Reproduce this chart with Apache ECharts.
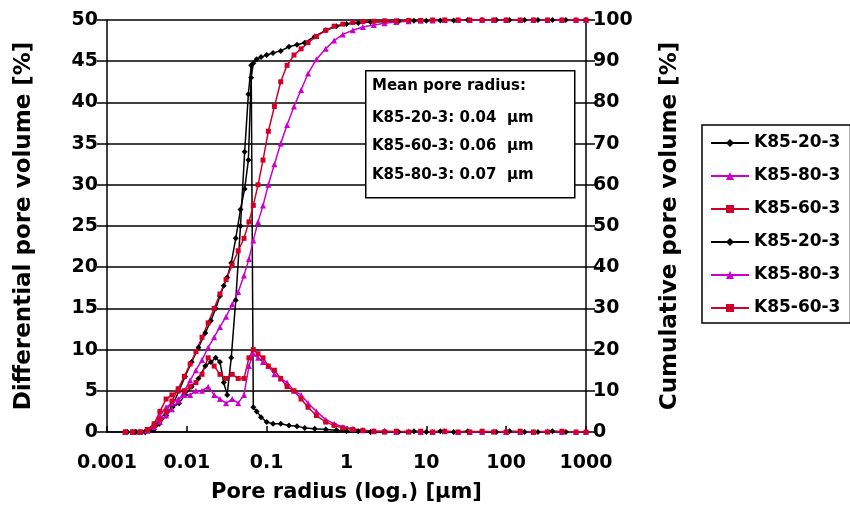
<!DOCTYPE html>
<html>
<head>
<meta charset="utf-8">
<script src="https://cdn.jsdelivr.net/npm/echarts@6/dist/echarts.min.js"></script>
<style>
  html, body { margin: 0; padding: 0; background: #fff; }
  #chart { width: 850px; height: 518px; }
</style>
</head>
<body>
<div id="chart"></div>
<script>
// pore radius [um] for K85-20-3
const radius20 = [0.0018, 0.0023, 0.003, 0.0038, 0.0045, 0.0055, 0.0066, 0.008, 0.0095, 0.0115,
  0.014, 0.017, 0.02, 0.023, 0.026, 0.029, 0.032, 0.036, 0.041, 0.047,
  0.053, 0.059, 0.064, 0.068, 0.075, 0.085, 0.1, 0.12, 0.15, 0.19,
  0.24, 0.3, 0.4, 0.55, 0.75, 1, 1.4, 2, 3, 4.5,
  7, 10, 15, 22, 33, 50, 75, 110, 170, 250, 380, 560, 1000];
const diff20 = [0, 0, 0, 0.2, 1, 2, 3, 3.5, 4.5, 5.5,
  6.5, 8, 8.5, 9, 8.5, 6, 4.5, 9, 16, 25,
  34, 41, 44.5, 3, 2.5, 1.8, 1.2, 1, 1, 0.8,
  0.7, 0.5, 0.4, 0.3, 0.2, 0.1, 0.1, 0, 0.1, 0,
  0.1, 0, 0.1, 0, 0.1, 0, 0, 0.1, 0, 0, 0.1, 0, 0];
const cum20 = [0, 0, 0, 0.5, 2, 4, 6.5, 10, 13.5, 17,
  20.5, 24, 27, 30, 33, 35.5, 37.5, 41, 47, 54,
  59, 66, 86, 89.5, 90.5, 91, 91.5, 92, 92.5, 93.5,
  94, 94.5, 96, 97.5, 98.5, 99, 99.3, 99.5, 99.6, 99.7,
  99.8, 99.8, 99.9, 99.9, 100, 100, 100, 100, 100, 100, 100, 100, 100];

// pore radius [um] for K85-60-3 and K85-80-3
const radius6080 = [0.0017, 0.0021, 0.0026, 0.0032, 0.0039, 0.0046, 0.0055, 0.0065, 0.0078, 0.0093,
  0.011, 0.013, 0.0155, 0.0185, 0.022, 0.026, 0.031, 0.037, 0.044, 0.052,
  0.06, 0.068, 0.078, 0.09, 0.105, 0.125, 0.15, 0.18, 0.22, 0.27,
  0.33, 0.42, 0.55, 0.7, 0.9, 1.2, 1.6, 2.2, 3, 4.2,
  6, 8.5, 12, 17, 25, 35, 50, 70, 100, 150, 220, 330, 500, 750, 1000];
const diff60 = [0, 0, 0, 0.3, 1, 2.5, 4, 4.5, 5, 5,
  5.5, 6, 7, 9, 8, 7, 6.5, 7, 6.5, 6.5,
  9, 10, 9.5, 9, 8, 7.5, 6.5, 5.5, 5, 4,
  3, 2, 1.2, 0.8, 0.5, 0.3, 0.2, 0.1, 0, 0.1,
  0, 0.1, 0, 0.1, 0, 0, 0.1, 0, 0, 0.1, 0, 0, 0.1, 0, 0];
const cum60 = [0, 0, 0, 0.5, 1.5, 3, 5, 7.5, 10.5, 13.5,
  16.5, 19.5, 23, 26.5, 30, 33.5, 37, 40.5, 44, 47,
  51, 55, 60, 66, 73, 79, 85, 89, 91.5, 93,
  94.5, 96, 97.5, 98.5, 99, 99.4, 99.6, 99.7, 99.8, 99.8,
  99.9, 99.9, 100, 100, 100, 100, 100, 100, 100, 100, 100, 100, 100, 100, 100];
const diff80 = [0, 0, 0, 0.2, 1, 2, 3, 3.5, 4, 4.5,
  4.5, 5, 5, 5.5, 4.5, 4, 3.5, 4, 3.5, 4.5,
  8, 9.5, 9, 8.5, 8, 7, 6.5, 6, 5, 4.5,
  3.5, 2.5, 1.5, 1, 0.6, 0.4, 0.2, 0.1, 0.1, 0,
  0.1, 0, 0, 0.1, 0, 0, 0, 0.1, 0, 0, 0, 0.1, 0, 0, 0];
const cum80 = [0, 0, 0, 0.3, 1.2, 2.5, 4, 5.5, 7.5, 10,
  12.5, 15, 17.5, 20.5, 23, 25.5, 28, 31, 34, 38,
  42, 46.5, 51, 55, 60, 65, 70, 74.5, 79, 83,
  87, 90.5, 93, 95, 96.5, 97.5, 98.3, 98.8, 99.2, 99.5,
  99.7, 99.8, 99.9, 100, 100, 100, 100, 100, 100, 100, 100, 100, 100, 100, 100];

const xTickLabels = ['0.001', '0.01', '0.1', '1', '10', '100', '1000'];
const meanLines = ['Mean pore radius:', 'K85-20-3: 0.04  µm', 'K85-60-3: 0.06  µm', 'K85-80-3: 0.07  µm'];

const FONT = 'DejaVu Sans';
const pairs = (xs, ys) => xs.map((x, i) => [x, ys[i]]);

function makeSeries(name, color, symbol, size, xs, ys, axis) {
  return {
    name: name,
    type: 'line',
    yAxisIndex: axis,
    data: pairs(xs, ys),
    symbol: symbol,
    symbolSize: size,
    color: color,
    lineStyle: { color: color, width: 1.5 },
    itemStyle: { color: color },
    animation: false
  };
}

const chart = echarts.init(document.getElementById('chart'));

const textY = [88, 120, 148, 177];
const boxTexts = meanLines.map((t, i) => ({
  type: 'text',
  left: 372,
  top: textY[i] - 9,
  z: 101,
  style: { text: t, font: 'bold 15px "DejaVu Sans"', fill: '#000' }
}));

chart.setOption({
  backgroundColor: '#fff',
  grid: { left: 107, right: 264, top: 20, bottom: 86 },
  legend: {
    orient: 'vertical',
    left: 702,
    top: 125,
    padding: [8, 10, 5, 8],
    borderColor: '#000',
    borderWidth: 1.5,
    itemWidth: 38,
    itemHeight: 10,
    itemGap: 13,
    textStyle: { fontFamily: FONT, fontWeight: 'bold', fontSize: 17, color: '#000', lineHeight: 20 },
    formatter: name => name.split('|')[0],
    data: ['K85-20-3|d', 'K85-80-3|d', 'K85-60-3|d', 'K85-20-3|c', 'K85-80-3|c', 'K85-60-3|c']
  },
  xAxis: {
    type: 'log',
    logBase: 10,
    min: 0.001,
    max: 1000,
    name: 'Pore radius (log.) [µm]',
    nameLocation: 'middle',
    nameGap: 50,
    nameTextStyle: { fontFamily: FONT, fontWeight: 'bold', fontSize: 21, color: '#000' },
    axisLine: { lineStyle: { color: '#000', width: 1.5 } },
    axisTick: { inside: true, length: 6, lineStyle: { color: '#000', width: 1.5 } },
    splitLine: { show: false },
    axisLabel: {
      margin: 22,
      fontFamily: FONT, fontWeight: 'bold', fontSize: 19, color: '#000',
      formatter: v => xTickLabels[Math.round(Math.log10(v)) + 3]
    }
  },
  yAxis: [{
    type: 'value',
    min: 0, max: 50, interval: 5,
    name: 'Differential pore volume [%]',
    nameLocation: 'middle',
    nameRotate: 90,
    nameGap: 71,
    nameTextStyle: { fontFamily: FONT, fontWeight: 'bold', fontSize: 23, color: '#000' },
    axisLine: { show: true, lineStyle: { color: '#000', width: 1.5 } },
    axisTick: { show: true, length: 10, lineStyle: { color: '#000', width: 1.5 } },
    splitLine: { show: true, lineStyle: { color: '#000', width: 1.5 } },
    axisLabel: { margin: 9, fontFamily: FONT, fontWeight: 'bold', fontSize: 19, color: '#000' }
  }, {
    type: 'value',
    position: 'right',
    min: 0, max: 100, interval: 10,
    name: 'Cumulative pore volume [%]',
    nameLocation: 'middle',
    nameRotate: 90,
    nameGap: 73,
    nameTextStyle: { fontFamily: FONT, fontWeight: 'bold', fontSize: 23, color: '#000' },
    axisLine: { show: true, lineStyle: { color: '#000', width: 1.5 } },
    axisTick: { show: true, length: 9, lineStyle: { color: '#000', width: 1.5 } },
    splitLine: { show: false },
    axisLabel: { margin: 7, fontFamily: FONT, fontWeight: 'bold', fontSize: 19, color: '#000' }
  }],
  graphic: [{
    type: 'rect',
    left: 365,
    top: 70,
    z: 100,
    shape: { width: 209, height: 127 },
    style: { fill: '#fff', stroke: '#000', lineWidth: 1.5 }
  }].concat(boxTexts),
  series: [
    makeSeries('K85-20-3|d', '#000000', 'diamond', 6, radius20, diff20, 0),
    makeSeries('K85-20-3|c', '#000000', 'diamond', 6, radius20, cum20, 1),
    makeSeries('K85-80-3|d', '#cc00cc', 'triangle', 6, radius6080, diff80, 0),
    makeSeries('K85-80-3|c', '#cc00cc', 'triangle', 6, radius6080, cum80, 1),
    makeSeries('K85-60-3|d', '#d0002a', 'rect', 5, radius6080, diff60, 0),
    makeSeries('K85-60-3|c', '#d0002a', 'rect', 5, radius6080, cum60, 1)
  ]
});
</script>
</body>
</html>
